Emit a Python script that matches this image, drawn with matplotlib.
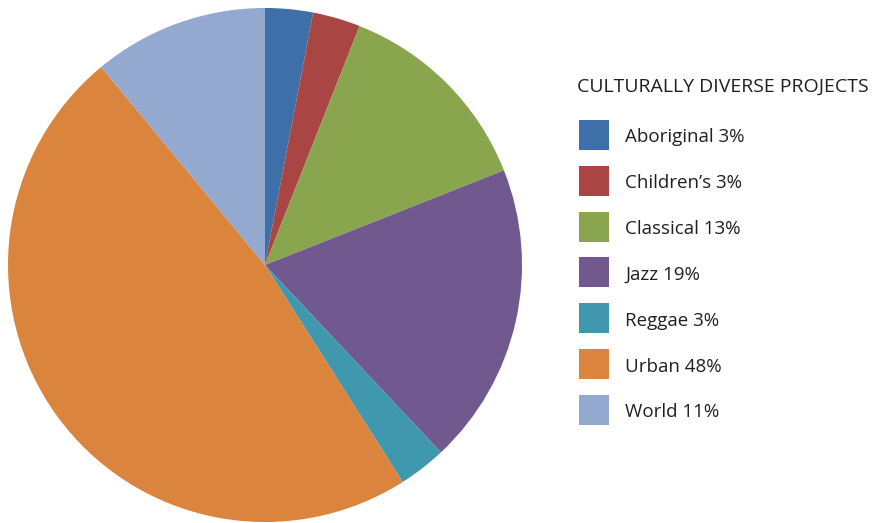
import matplotlib.pyplot as plt
from matplotlib.patches import Rectangle

# data
categories = ['Aboriginal', "Children\u2019s", 'Classical', 'Jazz', 'Reggae', 'Urban', 'World']
shares = [3, 3, 13, 19, 3, 48, 11]
colors = ['#3F6FA8', '#A94643', '#89A54D', '#71588F', '#3F98AE', '#DB843D', '#93A9CF']
legend_title = 'CULTURALLY DIVERSE PROJECTS'

plt.rcParams['font.family'] = ['Open Sans', 'DejaVu Sans']

fig = plt.figure(figsize=(8.75, 5.23), dpi=100)
W, H = 875, 523

# pie centred at (265, 265) px, radius ~257 px
r = 257
cx, cy = 265, 265
ax = fig.add_axes([(cx - r) / W, (H - cy - r) / H, 2 * r / W, 2 * r / H])
wedges, _ = ax.pie(shares, colors=colors, startangle=90, counterclock=False,
                   radius=1, wedgeprops=dict(linewidth=0))
ax.set_xlim(-1, 1)
ax.set_ylim(-1, 1)
ax.set_aspect('equal')
ax.axis('off')

# legend drawn in a pixel-space overlay axes
lax = fig.add_axes([0, 0, 1, 1])
lax.set_xlim(0, W)
lax.set_ylim(H, 0)
lax.axis('off')

txt_col = '#231f20'
lax.text(577, 92, legend_title, fontsize=14, color=txt_col, va='baseline', ha='left')
labels = [f'{c} {v}%' for c, v in zip(categories, shares)]
for i, (lab, col) in enumerate(zip(labels, colors)):
    top = 120 + i * 45.8
    lax.add_patch(Rectangle((579, top), 30, 30, facecolor=col, edgecolor='none'))
    lax.text(625, top + 22.5, lab, fontsize=13.5, color=txt_col, va='baseline', ha='left')

fig.savefig('out.png', dpi=100)
